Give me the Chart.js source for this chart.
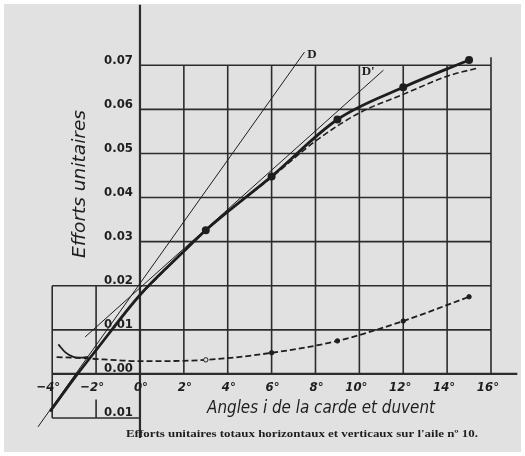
<!DOCTYPE html>
<html>
<head>
<meta charset="utf-8">
<script src="https://cdn.jsdelivr.net/npm/chart.js@4.4.1/dist/chart.umd.min.js"></script>
<style>
html,body{margin:0;padding:0;background:#fff;}
canvas{display:block;}
</style>
</head>
<body>
<canvas id="c" width="525" height="456"></canvas>
<script>
// ---- data ----
const liftAngles = [-4.1, -3, -2, 0, 2, 3, 6, 9, 12, 15];
const liftValues = [-0.0085, -0.0010, 0.0054, 0.0179, 0.0278, 0.0326, 0.0448, 0.0577, 0.0650, 0.0712];
const liftMarked = [3, 6, 9, 12, 15];

const resAngles = [0, 3, 6, 8, 10, 12, 14, 15.4];
const resValues = [0.0179, 0.0326, 0.0446, 0.0528, 0.0592, 0.0634, 0.0675, 0.0694];

const dragAngles = [-3.8, -3, -2, -1, 0, 3, 6, 9, 12, 15];
const dragValues = [0.0038, 0.0037, 0.0034, 0.0031, 0.0029, 0.0032, 0.0048, 0.0075, 0.0120, 0.0175];
const dragMarked = [3, 6, 9, 12, 15];

const hookAngles = [-3.72, -3.4, -3.04, -2.7, -2.36];
const hookValues = [0.0067, 0.0049, 0.0039, 0.0037, 0.0039];

const lineDAngles = [-4.65, 7.5];
const lineDValues = [-0.0120, 0.0730];
const lineD2Angles = [-2.5, 11.1];
const lineD2Values = [0.0084, 0.0689];

const xTicks = [-4, -2, 0, 2, 4, 6, 8, 10, 12, 14, 16];
const xTickLabels = ['\u22124\u00b0', '\u22122\u00b0', '0\u00b0', '2\u00b0', '4\u00b0', '6\u00b0', '8\u00b0', '10\u00b0', '12\u00b0', '14\u00b0', '16\u00b0'];
const yTicks = [0.07, 0.06, 0.05, 0.04, 0.03, 0.02, 0.01, 0.00, -0.01];
const yTickLabels = ['0.07', '0.06', '0.05', '0.04', '0.03', '0.02', '0.01', '0.00', '0.01'];

const xTitle = 'Angles i de la carde et duvent';
const yTitle = 'Efforts unitaires';
const caption = "Efforts unitaires totaux horizontaux et verticaux sur l'aile n\u00ba 10.";

function pts(xs, ys){ return xs.map((x,i)=>({x:x, y:ys[i]})); }

const INK = '#1e1e1e';
const GRID = '#2c2c2c';

function fitText(ctx, text, x, y, width, font, rot){
  ctx.save();
  ctx.font = font;
  const w = ctx.measureText(text).width;
  ctx.translate(x, y);
  if (rot) ctx.rotate(rot);
  ctx.scale(width / w, 1);
  ctx.textAlign = 'center';
  ctx.textBaseline = 'middle';
  ctx.fillText(text, 0, 0);
  ctx.restore();
}

const paperPlugin = {
  id: 'paper',
  beforeDraw(chart){
    const ctx = chart.ctx;
    ctx.save();
    ctx.fillStyle = '#ffffff';
    ctx.fillRect(0, 0, chart.width, chart.height);
    ctx.fillStyle = '#e1e1e1';
    ctx.fillRect(4, 4, chart.width - 8, chart.height - 8);
    ctx.restore();
  },
  beforeDatasetsDraw(chart){
    const ctx = chart.ctx;
    const xs = chart.scales.x, ys = chart.scales.y;
    const X = v => xs.getPixelForValue(v), Y = v => ys.getPixelForValue(v);
    ctx.save();
    ctx.strokeStyle = GRID;
    ctx.lineWidth = 1.6;
    function seg(x1, y1, x2, y2){ ctx.beginPath(); ctx.moveTo(X(x1), Y(y1)); ctx.lineTo(X(x2), Y(y2)); ctx.stroke(); }
    for (const t of xTicks){
      if (t > 0 && t < 16) seg(t, 0, t, 0.07);
    }
    seg(16, 0, 16, 0.0718);
    seg(-4, -0.01, -4, 0.02);
    seg(-2, 0, -2, 0.02);
    seg(-2, -0.0058, -2, -0.01);
    for (const t of yTicks){
      if (t >= 0.03) seg(0, t, 16, t);
    }
    seg(-4, 0.02, 16, 0.02);
    seg(-4, 0.01, 16, 0.01);
    seg(-4, -0.01, 0, -0.01);
    ctx.lineWidth = 2.2;
    seg(-4, 0, 17.2, 0);
    seg(0, -0.0145, 0, 0.0837);
    ctx.restore();

    ctx.save();
    ctx.fillStyle = INK;
    ctx.font = "bold 13px 'DejaVu Sans Condensed', 'Liberation Sans Narrow', sans-serif";
    ctx.textAlign = 'right';
    ctx.textBaseline = 'middle';
    yTicks.forEach((t, i) => {
      ctx.fillText(yTickLabels[i], X(0) - 7, Y(t) - 5);
    });
    ctx.font = "italic bold 13px 'DejaVu Sans Condensed', 'Liberation Sans Narrow', sans-serif";
    xTicks.forEach((t, i) => {
      ctx.fillText(xTickLabels[i], X(t) + 8, Y(0) + 14);
    });
    fitText(ctx, xTitle, 321, 409, 228, "italic 17px 'DejaVu Sans Condensed', sans-serif");
    fitText(ctx, yTitle, 81, 184, 148, "italic 17px 'DejaVu Sans Condensed', sans-serif", -Math.PI/2);
    fitText(ctx, caption, 302, 434, 352, "bold 10px 'Liberation Serif', serif");
    ctx.font = "bold 13px 'Liberation Serif', serif";
    ctx.textAlign = 'center';
    ctx.fillText('D', X(7.84), Y(0.0723));
    ctx.fillText("D'", X(10.4), Y(0.0686));
    ctx.restore();
  }
};

function markerRadius(marked, r){
  return ctx => (marked.includes(ctx.raw && ctx.raw.x) ? r : 0);
}

new Chart(document.getElementById('c'), {
  type: 'scatter',
  data: {
    datasets: [
      { label: 'D', data: pts(lineDAngles, lineDValues), showLine: true, borderColor: INK, borderWidth: 1, pointRadius: 0 },
      { label: "D'", data: pts(lineD2Angles, lineD2Values), showLine: true, borderColor: INK, borderWidth: 1, pointRadius: 0 },
      { label: 'resultante', data: pts(resAngles, resValues), showLine: true, borderColor: INK, borderWidth: 1.6, borderDash: [6, 3], cubicInterpolationMode: 'monotone', pointRadius: 0 },
      { label: 'vertical', data: pts(liftAngles, liftValues), showLine: true, borderColor: INK, borderWidth: 2.8, cubicInterpolationMode: 'monotone',
        pointRadius: markerRadius(liftMarked, 2.6), pointBackgroundColor: INK, pointBorderColor: INK },
      { label: 'horizontal', data: pts(dragAngles, dragValues), showLine: true, borderColor: INK, borderWidth: 1.8, borderDash: [6, 3], cubicInterpolationMode: 'monotone',
        pointRadius: markerRadius(dragMarked, 2.2), pointBackgroundColor: c => (c.raw && c.raw.x === 3 ? '#e1e1e1' : INK), pointBorderColor: INK, pointBorderWidth: 1 },
      { label: 'hook', data: pts(hookAngles, hookValues), showLine: true, borderColor: INK, borderWidth: 1.8, cubicInterpolationMode: 'monotone', pointRadius: 0 }
    ]
  },
  options: {
    responsive: false,
    animation: false,
    events: [],
    layout: { padding: 0, autoPadding: false },
    plugins: { legend: { display: false }, tooltip: { enabled: false } },
    scales: {
      x: { type: 'linear', min: -6.38, max: 17.55, display: false },
      y: { type: 'linear', min: -0.0186, max: 0.0848, display: false }
    }
  },
  plugins: [paperPlugin]
});
</script>
</body>
</html>
